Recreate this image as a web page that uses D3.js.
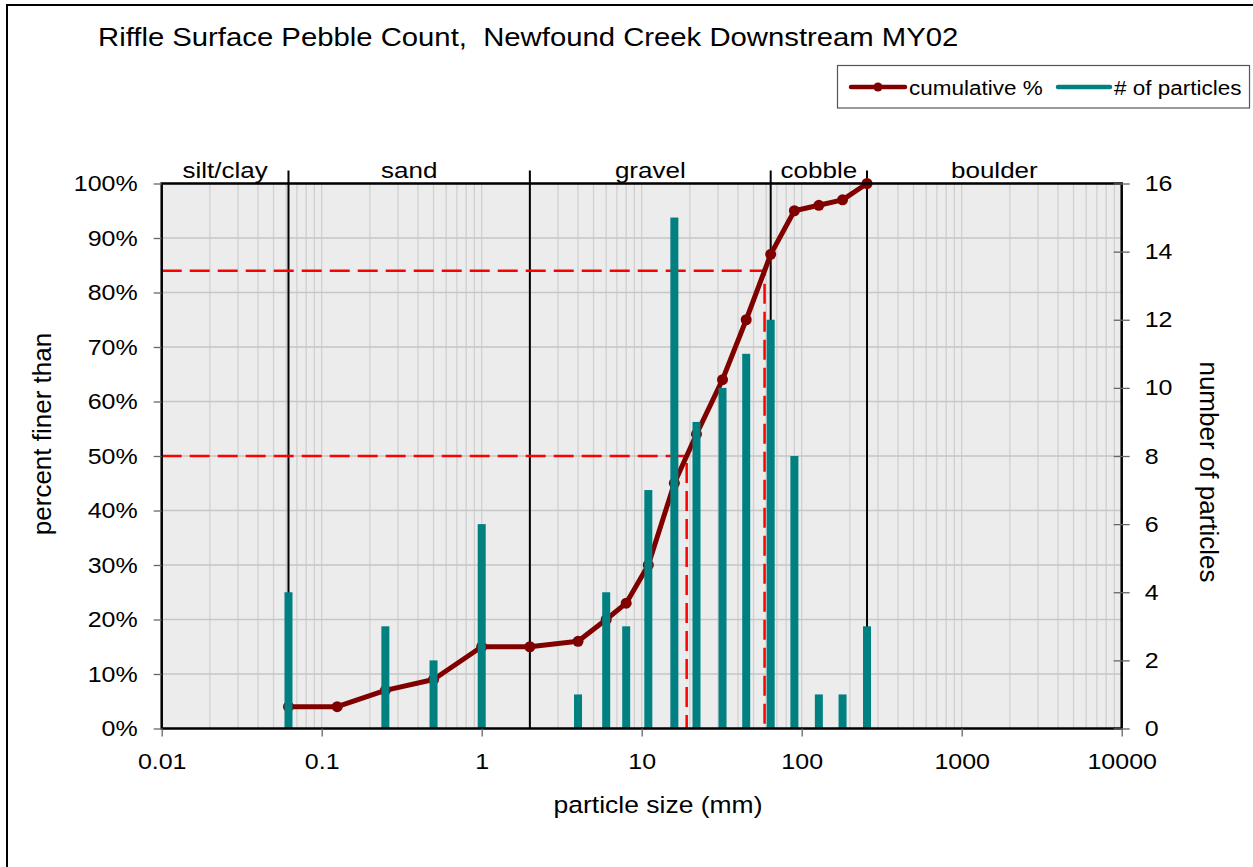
<!DOCTYPE html>
<html>
<head>
<meta charset="utf-8">
<script src="https://cdn.jsdelivr.net/npm/d3@7"></script>
<style>
  body { margin: 0; background: #fff; }
  svg text { font-family: "Liberation Sans", Arial, sans-serif; fill: #000; white-space: pre; }
</style>
</head>
<body>
<div id="container"></div>
<script>
// pebble count data
const sizes      = [0.062, 0.125, 0.25, 0.5, 1, 2, 4, 6, 8, 11, 16, 22, 32, 45, 64, 90, 128, 180, 256];
const cumulative = [4, 4, 7, 9, 15, 15, 16, 20, 23, 30, 45, 54, 64, 75, 87, 95, 96, 97, 100];
const counts     = [4, 0, 3, 2, 6, 0, 1, 4, 3, 7, 15, 9, 10, 11, 12, 8, 1, 1, 3];

const classBreaks = [0.01, 0.062, 2, 64, 256, 10000];
const classNames  = ['silt/clay', 'sand', 'gravel', 'cobble', 'boulder'];

const dPercents = [50, 84];
const dSizes    = [19.1, 58.6];

const xTickValues   = [0.01, 0.1, 1, 10, 100, 1000, 10000];
const pctTickValues = [0, 10, 20, 30, 40, 50, 60, 70, 80, 90, 100];
const cntTickValues = [0, 2, 4, 6, 8, 10, 12, 14, 16];

const width = 1253, height = 867;
const pLeft = 161.7, pRight = 1121.7, pTop = 183.5, pBottom = 728.5;
const squash = 0.88;

const svg = d3.select('#container').append('svg')
    .attr('width', width)
    .attr('height', height);

const x = d3.scaleLog().domain([0.01, 10000]).range([pLeft, pRight]);
const yL = d3.scaleLinear().domain([0, 100]).range([pBottom, pTop]);
const yR = d3.scaleLinear().domain([0, 16]).range([pBottom, pTop]);

function label(px, py, size, str, anchor) {
    return svg.append('text')
        .attr('transform', `translate(${px},${py}) scale(1,${squash})`)
        .attr('font-size', size)
        .attr('text-anchor', anchor || 'start')
        .text(str);
}

// outer frame
svg.append('rect')
    .attr('x', 7).attr('y', 5)
    .attr('width', 1300).attr('height', 900)
    .attr('fill', 'none').attr('stroke', '#000').attr('stroke-width', 2);

label(98, 46, 29.3, 'Riffle Surface Pebble Count,  Newfound Creek Downstream MY02');

// plot background
svg.append('rect')
    .attr('x', pLeft).attr('y', pTop)
    .attr('width', pRight - pLeft).attr('height', pBottom - pTop)
    .attr('fill', '#ececec');

// grid
svg.append('g').selectAll('line')
    .data(x.ticks())
    .enter().append('line')
    .attr('x1', d => x(d)).attr('x2', d => x(d))
    .attr('y1', pTop).attr('y2', pBottom)
    .attr('stroke', '#d0d0d0').attr('stroke-width', 1.3);

svg.append('g').selectAll('line')
    .data(pctTickValues)
    .enter().append('line')
    .attr('x1', pLeft).attr('x2', pRight)
    .attr('y1', d => yL(d)).attr('y2', d => yL(d))
    .attr('stroke', '#c6c6c6').attr('stroke-width', 1.3);

// size class boundaries + names
svg.append('g').selectAll('line')
    .data(classBreaks.slice(1, -1))
    .enter().append('line')
    .attr('x1', d => x(d)).attr('x2', d => x(d))
    .attr('y1', pTop - 13).attr('y2', pBottom)
    .attr('stroke', '#000').attr('stroke-width', 2);

classNames.forEach((name, i) => {
    const cx = (x(classBreaks[i]) + x(classBreaks[i + 1])) / 2;
    label(cx, 178, 26, name, 'middle');
});

// D50 / D84 guides
svg.append('g').selectAll('path')
    .data(dPercents)
    .enter().append('path')
    .attr('d', (p, i) => `M${pLeft},${yL(p)}H${x(dSizes[i])}V${pBottom}`)
    .attr('fill', 'none')
    .attr('stroke', '#ff0000')
    .attr('stroke-width', 2.5)
    .attr('stroke-dasharray', '20,8');

// cumulative line
const pts = sizes.map((s, i) => [s, cumulative[i]]);
const line = d3.line().x(d => x(d[0])).y(d => yL(d[1]));
svg.append('path')
    .datum(pts)
    .attr('d', line)
    .attr('fill', 'none')
    .attr('stroke', '#800000')
    .attr('stroke-width', 5)
    .attr('stroke-linejoin', 'round');
svg.append('g').selectAll('circle')
    .data(pts)
    .enter().append('circle')
    .attr('cx', d => x(d[0])).attr('cy', d => yL(d[1]))
    .attr('r', 5.5)
    .attr('fill', '#800000');

// particle count bars
svg.append('g').selectAll('rect')
    .data(sizes.map((s, i) => [s, counts[i]]).filter(d => d[1] > 0))
    .enter().append('rect')
    .attr('x', d => x(d[0]) - 4)
    .attr('width', 8)
    .attr('y', d => yR(d[1]))
    .attr('height', d => yR(0) - yR(d[1]))
    .attr('fill', '#008080');

// plot border
svg.append('rect')
    .attr('x', pLeft).attr('y', pTop)
    .attr('width', pRight - pLeft).attr('height', pBottom - pTop)
    .attr('fill', 'none').attr('stroke', '#000').attr('stroke-width', 2.5);

// axes
const xAxis = svg.append('g')
    .attr('transform', `translate(0,${pBottom})`)
    .call(d3.axisBottom(x).tickValues(xTickValues).tickFormat(d => String(d)).tickSize(8).tickPadding(15));
xAxis.selectAll('text').attr('font-size', 25).attr('y', 28).attr('transform', `scale(1,${squash})`);

const yAxisL = svg.append('g')
    .attr('transform', `translate(${pLeft},0)`)
    .call(d3.axisLeft(yL).tickValues(pctTickValues).tickFormat(d => d + '%').tickSize(8).tickPadding(16));
yAxisL.selectAll('text').attr('font-size', 25).attr('transform', `scale(1,${squash})`);

const yAxisR = svg.append('g')
    .attr('transform', `translate(${pRight},0)`)
    .call(d3.axisRight(yR).tickValues(cntTickValues).tickSize(8).tickPadding(15));
yAxisR.selectAll('text').attr('font-size', 25).attr('transform', `scale(1,${squash})`);
yAxisR.selectAll('.tick line').attr('x1', -8);

[xAxis, yAxisL, yAxisR].forEach(a => {
    a.select('.domain').remove();
    a.selectAll('.tick line').attr('stroke', '#666').attr('stroke-width', 1.3);
    a.attr('font-family', null);
});

// axis titles
label(658, 813, 26.5, 'particle size (mm)', 'middle');
svg.append('text')
    .attr('transform', 'translate(51,434) rotate(-90)')
    .attr('font-size', 26).attr('text-anchor', 'middle')
    .text('percent finer than');
svg.append('text')
    .attr('transform', 'translate(1200,472) rotate(90)')
    .attr('font-size', 26).attr('text-anchor', 'middle')
    .text('number of particles');

// legend
const lg = svg.append('g');
lg.append('rect')
    .attr('x', 837.5).attr('y', 65.5)
    .attr('width', 412).attr('height', 42.5)
    .attr('fill', '#fff').attr('stroke', '#555').attr('stroke-width', 1.2);
lg.append('line')
    .attr('x1', 851).attr('x2', 905).attr('y1', 87).attr('y2', 87)
    .attr('stroke', '#800000').attr('stroke-width', 4.5).attr('stroke-linecap', 'round');
lg.append('circle').attr('cx', 878).attr('cy', 87).attr('r', 4.5).attr('fill', '#800000');
lg.append('text')
    .attr('transform', `translate(909,95) scale(1,${squash})`)
    .attr('font-size', 22.5).text('cumulative %');
lg.append('line')
    .attr('x1', 1058).attr('x2', 1110).attr('y1', 87).attr('y2', 87)
    .attr('stroke', '#008080').attr('stroke-width', 4.5).attr('stroke-linecap', 'round');
lg.append('text')
    .attr('transform', `translate(1114,95) scale(1,${squash})`)
    .attr('font-size', 22.5).text('# of particles');
</script>
</body>
</html>
